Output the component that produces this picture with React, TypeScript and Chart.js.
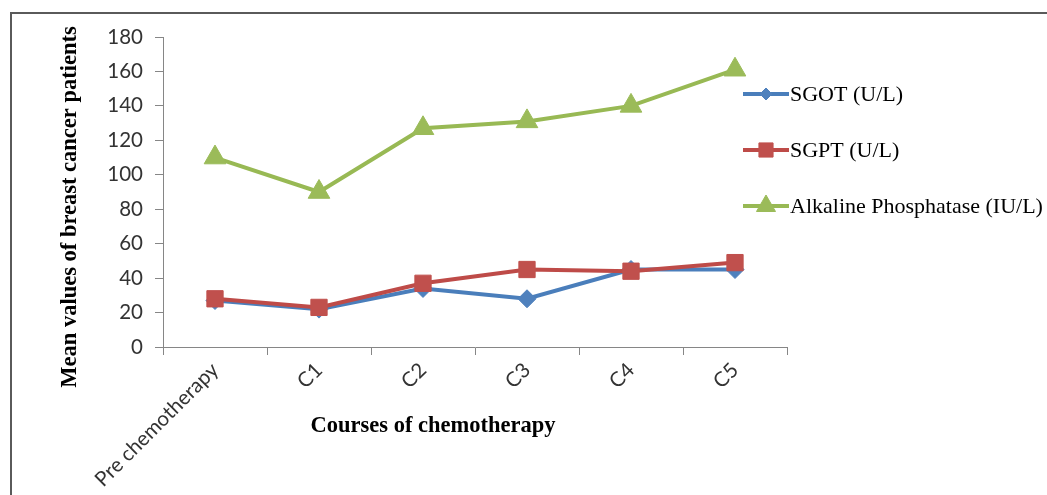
import React, { useEffect, useRef } from "react";
import { Chart, registerables } from "chart.js";

Chart.register(...registerables);

const categories = ["Pre chemotherapy", "C1", "C2", "C3", "C4", "C5"];
const sgot = [27, 22, 34, 28, 45, 45];
const sgpt = [28, 23, 37, 45, 44, 49];
const alp = [110, 90, 127, 131, 140, 161];
const seriesNames = ["SGOT (U/L)", "SGPT (U/L)", "Alkaline Phosphatase (IU/L)"];
const yTitle = "Mean values of breast cancer patients";
const xTitle = "Courses of chemotherapy";

const BLUE = "#4A7EBB";
const RED = "#BE4B48";
const GREEN = "#98B954";

const legendMarkers = [
  { style: "rectRot", r: 6 },
  { style: "rect", r: 10 },
  { style: "triangle", r: 11 },
];

function drawMarker(ctx: CanvasRenderingContext2D, style: string, r: number, x: number, y: number) {
  ctx.beginPath();
  if (style === "rectRot") {
    ctx.moveTo(x, y - r);
    ctx.lineTo(x + r, y);
    ctx.lineTo(x, y + r);
    ctx.lineTo(x - r, y);
    ctx.closePath();
  } else if (style === "rect") {
    const s = Math.SQRT1_2 * r;
    ctx.rect(x - s, y - s, 2 * s, 2 * s);
  } else {
    const a = (Math.PI / 180) * 120;
    ctx.moveTo(x, y - r);
    ctx.lineTo(x + Math.sin(a) * r, y + r / 2);
    ctx.lineTo(x - Math.sin(a) * r, y + r / 2);
    ctx.closePath();
  }
  ctx.fill();
  ctx.stroke();
}

const overlayPlugin = {
  id: "overlay",
  afterDraw(chart: any) {
    const ctx = chart.ctx as CanvasRenderingContext2D;
    ctx.save();
    ctx.fillStyle = "#000";
    ctx.font = "bold 22.5px 'Liberation Serif', 'Times New Roman', serif";
    ctx.textAlign = "center";
    ctx.textBaseline = "middle";
    ctx.save();
    ctx.translate(70, 207);
    ctx.rotate(-Math.PI / 2);
    ctx.fillText(yTitle, 0, 0);
    ctx.restore();
    ctx.fillText(xTitle, 433, 426);

    const datasets = chart.data.datasets;
    datasets.forEach((ds: any, i: number) => {
      const y = 94 + i * 56;
      ctx.strokeStyle = ds.borderColor;
      ctx.lineWidth = 4;
      ctx.beginPath();
      ctx.moveTo(743, y);
      ctx.lineTo(789, y);
      ctx.stroke();
      const m = legendMarkers[i];
      ctx.fillStyle = ds.pointBackgroundColor;
      ctx.strokeStyle = ds.pointBackgroundColor;
      ctx.lineWidth = 1;
      drawMarker(ctx, m.style, m.r, 766, y);
      ctx.fillStyle = "#000";
      ctx.font = "22px 'Liberation Serif', 'Times New Roman', serif";
      ctx.textAlign = "left";
      ctx.textBaseline = "middle";
      ctx.fillText(ds.label, 790, y + 1);
    });
    ctx.restore();
  },
};

export default function App() {
  const ref = useRef<HTMLCanvasElement | null>(null);

  useEffect(() => {
    document.body.style.margin = "0";
    if (!ref.current) return;
    const tickFont = { family: "Lato, 'Open Sans', sans-serif", size: 20.5 };
    const chart = new Chart(ref.current, {
      type: "line",
      data: {
        labels: categories,
        datasets: [
          {
            label: seriesNames[0],
            data: sgot,
            borderColor: BLUE,
            backgroundColor: BLUE,
            pointBackgroundColor: "#4F81BD",
            pointBorderColor: "#4F81BD",
            pointStyle: "rectRot",
            pointRadius: 9,
            pointBorderWidth: 1,
            borderWidth: 4,
            order: 1,
          },
          {
            label: seriesNames[1],
            data: sgpt,
            borderColor: RED,
            backgroundColor: RED,
            pointBackgroundColor: "#C0504D",
            pointBorderColor: "#C0504D",
            pointStyle: "rect",
            pointRadius: 11.5,
            pointBorderWidth: 1,
            borderWidth: 4,
            order: 0,
          },
          {
            label: seriesNames[2],
            data: alp,
            borderColor: GREEN,
            backgroundColor: GREEN,
            pointBackgroundColor: "#9BBB59",
            pointBorderColor: "#9BBB59",
            pointStyle: "triangle",
            pointRadius: 12.5,
            pointBorderWidth: 1,
            borderWidth: 4,
            order: 2,
          },
        ],
      },
      options: {
        responsive: false,
        animation: false,
        devicePixelRatio: 1,
        layout: { padding: { top: 37, right: 260, left: 0, bottom: 0 } },
        plugins: {
          legend: { display: false },
          tooltip: { enabled: false },
          title: { display: false },
        },
        scales: {
          x: {
            offset: true,
            grid: {
              offset: true,
              drawOnChartArea: false,
              drawTicks: true,
              tickLength: 8,
              color: "#868686",
            },
            border: { display: true, color: "#868686", width: 1 },
            ticks: {
              color: "#333333",
              font: tickFont,
              minRotation: 45,
              maxRotation: 45,
              padding: 3,
              autoSkip: false,
            },
            afterFit(scale: any) {
              scale.height = 148;
            },
          },
          y: {
            min: 0,
            max: 180,
            grid: {
              drawOnChartArea: false,
              drawTicks: true,
              tickLength: 8,
              color: "#868686",
            },
            border: { display: true, color: "#868686", width: 1 },
            ticks: {
              stepSize: 20,
              color: "#333333",
              font: tickFont,
              padding: 12,
            },
            afterFit(scale: any) {
              scale.width = 163;
            },
          },
        },
      },
      plugins: [overlayPlugin],
    });
    return () => chart.destroy();
  }, []);

  return (
    <div style={{ position: "relative", width: 1047, height: 495, overflow: "hidden", background: "#fff" }}>
      <canvas ref={ref} width={1047} height={495} style={{ position: "absolute", left: 0, top: 0 }} />
      <div
        style={{
          position: "absolute",
          left: 10,
          top: 12,
          width: 1200,
          height: 700,
          border: "2px solid #5a5a5a",
          pointerEvents: "none",
        }}
      />
    </div>
  );
}
